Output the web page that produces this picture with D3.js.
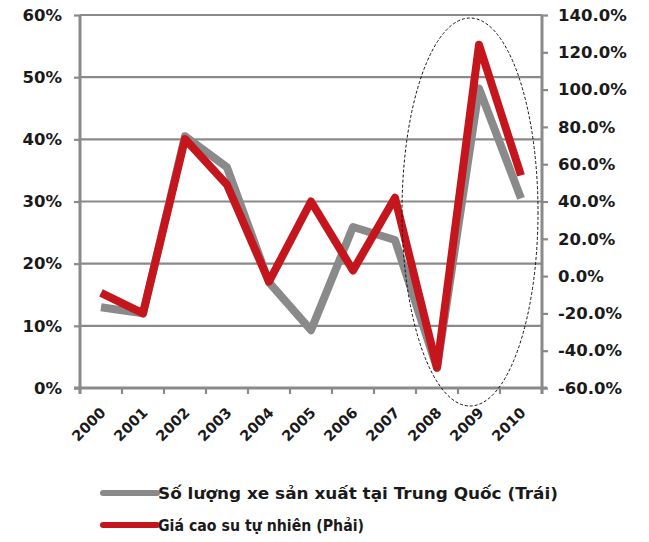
<!DOCTYPE html>
<html>
<head>
<meta charset="utf-8">
<script src="https://cdn.jsdelivr.net/npm/d3@7"></script>
<style>
  html, body { margin: 0; padding: 0; background: #fff; }
  svg { display: block; }
  text { font-family: "DejaVu Sans", Verdana, sans-serif; font-weight: bold; fill: #1a1a1a; }
</style>
</head>
<body>
<svg id="chart" width="649" height="542"></svg>
<script>
// Years on the category axis
const years = ["2000", "2001", "2002", "2003", "2004", "2005", "2006", "2007", "2008", "2009", "2010"];
// Vehicle production growth in China (left axis)
const vehicleGrowth = [0.13, 0.12, 0.405, 0.355, 0.17, 0.093, 0.259, 0.238, 0.032, 0.482, 0.305];
// Natural rubber price change (right axis)
const rubberChange = [-0.09, -0.20, 0.735, 0.49, -0.03, 0.40, 0.03, 0.42, -0.49, 1.24, 0.54];
// Axis tick values
const leftTicks = [0, 0.1, 0.2, 0.3, 0.4, 0.5, 0.6];
const rightTicks = [-0.6, -0.4, -0.2, 0, 0.2, 0.4, 0.6, 0.8, 1.0, 1.2, 1.4];
// Legend entries
const seriesNames = ["Số lượng xe sản xuất tại Trung Quốc (Trái)", "Giá cao su tự nhiên (Phải)"];
const seriesColors = ["#8a8a8a", "#c4161c"];

const svg = d3.select("#chart");
const plotL = 80, plotR = 542, plotT = 15, plotB = 388;
const axisColor = "#8a8a8a";

const locale = d3.formatLocale({ decimal: ".", thousands: ",", grouping: [3], currency: ["$", ""], minus: "-" });

const x = d3.scaleBand().domain(years).range([plotL, plotR]).padding(0);
const yL = d3.scaleLinear().domain([0, 0.6]).range([plotB, plotT]);
const yR = d3.scaleLinear().domain([-0.6, 1.4]).range([plotB, plotT]);

// Horizontal gridlines on the left-axis ticks
svg.append("g")
  .selectAll("line")
  .data(leftTicks.filter(d => d > 0))
  .join("line")
  .attr("x1", plotL).attr("x2", plotR)
  .attr("y1", d => yL(d)).attr("y2", d => yL(d))
  .attr("stroke", axisColor).attr("stroke-width", 2.2);

// Left axis
const gL = svg.append("g").attr("transform", `translate(${plotL},0)`)
  .call(d3.axisLeft(yL).tickValues(leftTicks).tickFormat(locale.format(".0%")).tickSize(6).tickPadding(12));
gL.select(".domain").remove();
gL.selectAll(".tick line").attr("stroke", axisColor).attr("stroke-width", 2.2);
gL.selectAll(".tick text").attr("font-size", 16.5).attr("fill", "#1a1a1a");

// Right axis
const gR = svg.append("g").attr("transform", `translate(${plotR},0)`)
  .call(d3.axisRight(yR).tickValues(rightTicks).tickFormat(locale.format(".1%")).tickSize(6).tickPadding(10));
gR.select(".domain").remove();
gR.selectAll(".tick line").attr("stroke", axisColor).attr("stroke-width", 2.2);
gR.selectAll(".tick text").attr("font-size", 16.5).attr("fill", "#1a1a1a");

// Bottom axis: ticks on category boundaries, labels rotated
const bounds = years.map(d => x(d)).concat([x.range()[1]]);
svg.append("g").selectAll("line")
  .data(bounds)
  .join("line")
  .attr("x1", d => d).attr("x2", d => d)
  .attr("y1", plotB).attr("y2", plotB + 6)
  .attr("stroke", axisColor).attr("stroke-width", 2.2);

svg.append("g").selectAll("text")
  .data(years)
  .join("text")
  .attr("transform", d => `translate(${x(d) + x.bandwidth() / 2 + 2},${plotB + 22}) rotate(-45)`)
  .attr("text-anchor", "end")
  .attr("dy", "0.35em")
  .attr("font-size", 14.5)
  .text(d => d);

// Axis lines
svg.append("line").attr("x1", plotL).attr("x2", plotL).attr("y1", plotT).attr("y2", plotB + 6)
  .attr("stroke", axisColor).attr("stroke-width", 3);
svg.append("line").attr("x1", plotR).attr("x2", plotR).attr("y1", plotT).attr("y2", plotB + 6)
  .attr("stroke", axisColor).attr("stroke-width", 3);
svg.append("line").attr("x1", plotL - 6).attr("x2", plotR + 5).attr("y1", plotB).attr("y2", plotB)
  .attr("stroke", axisColor).attr("stroke-width", 3);

// Series lines
const cx = d => x(d) + x.bandwidth() / 2;
const lineL = d3.line().x((d, i) => cx(years[i])).y(d => yL(d));
const lineR = d3.line().x((d, i) => cx(years[i])).y(d => yR(d));

svg.append("path").datum(vehicleGrowth)
  .attr("d", lineL).attr("fill", "none")
  .attr("stroke", seriesColors[0]).attr("stroke-width", 8)
  .attr("stroke-linejoin", "round").attr("stroke-linecap", "butt");

svg.append("path").datum(rubberChange)
  .attr("d", lineR).attr("fill", "none")
  .attr("stroke", seriesColors[1]).attr("stroke-width", 8)
  .attr("stroke-linejoin", "round").attr("stroke-linecap", "butt");

// Dashed ellipse highlighting 2008-2010
svg.append("ellipse")
  .attr("cx", cx("2009") - 9).attr("cy", 212)
  .attr("rx", 68).attr("ry", 194)
  .attr("fill", "none").attr("stroke", "#111").attr("stroke-width", 1)
  .attr("stroke-dasharray", "3,2");

// Legend
const legendWidths = [400, 206];
const legend = svg.append("g");
const legendRows = legend.selectAll("g")
  .data(seriesNames)
  .join("g")
  .attr("transform", (d, i) => `translate(100,${493 + i * 32})`);
legendRows.append("line")
  .attr("x1", 3).attr("x2", 57).attr("y1", 0).attr("y2", 0)
  .attr("stroke", (d, i) => seriesColors[i]).attr("stroke-width", 6)
  .attr("stroke-linecap", "round");
legendRows.append("text")
  .attr("x", 58).attr("dy", "0.35em")
  .attr("font-size", 16.5)
  .attr("textLength", (d, i) => legendWidths[i])
  .attr("lengthAdjust", "spacingAndGlyphs")
  .text(d => d);
</script>
</body>
</html>
